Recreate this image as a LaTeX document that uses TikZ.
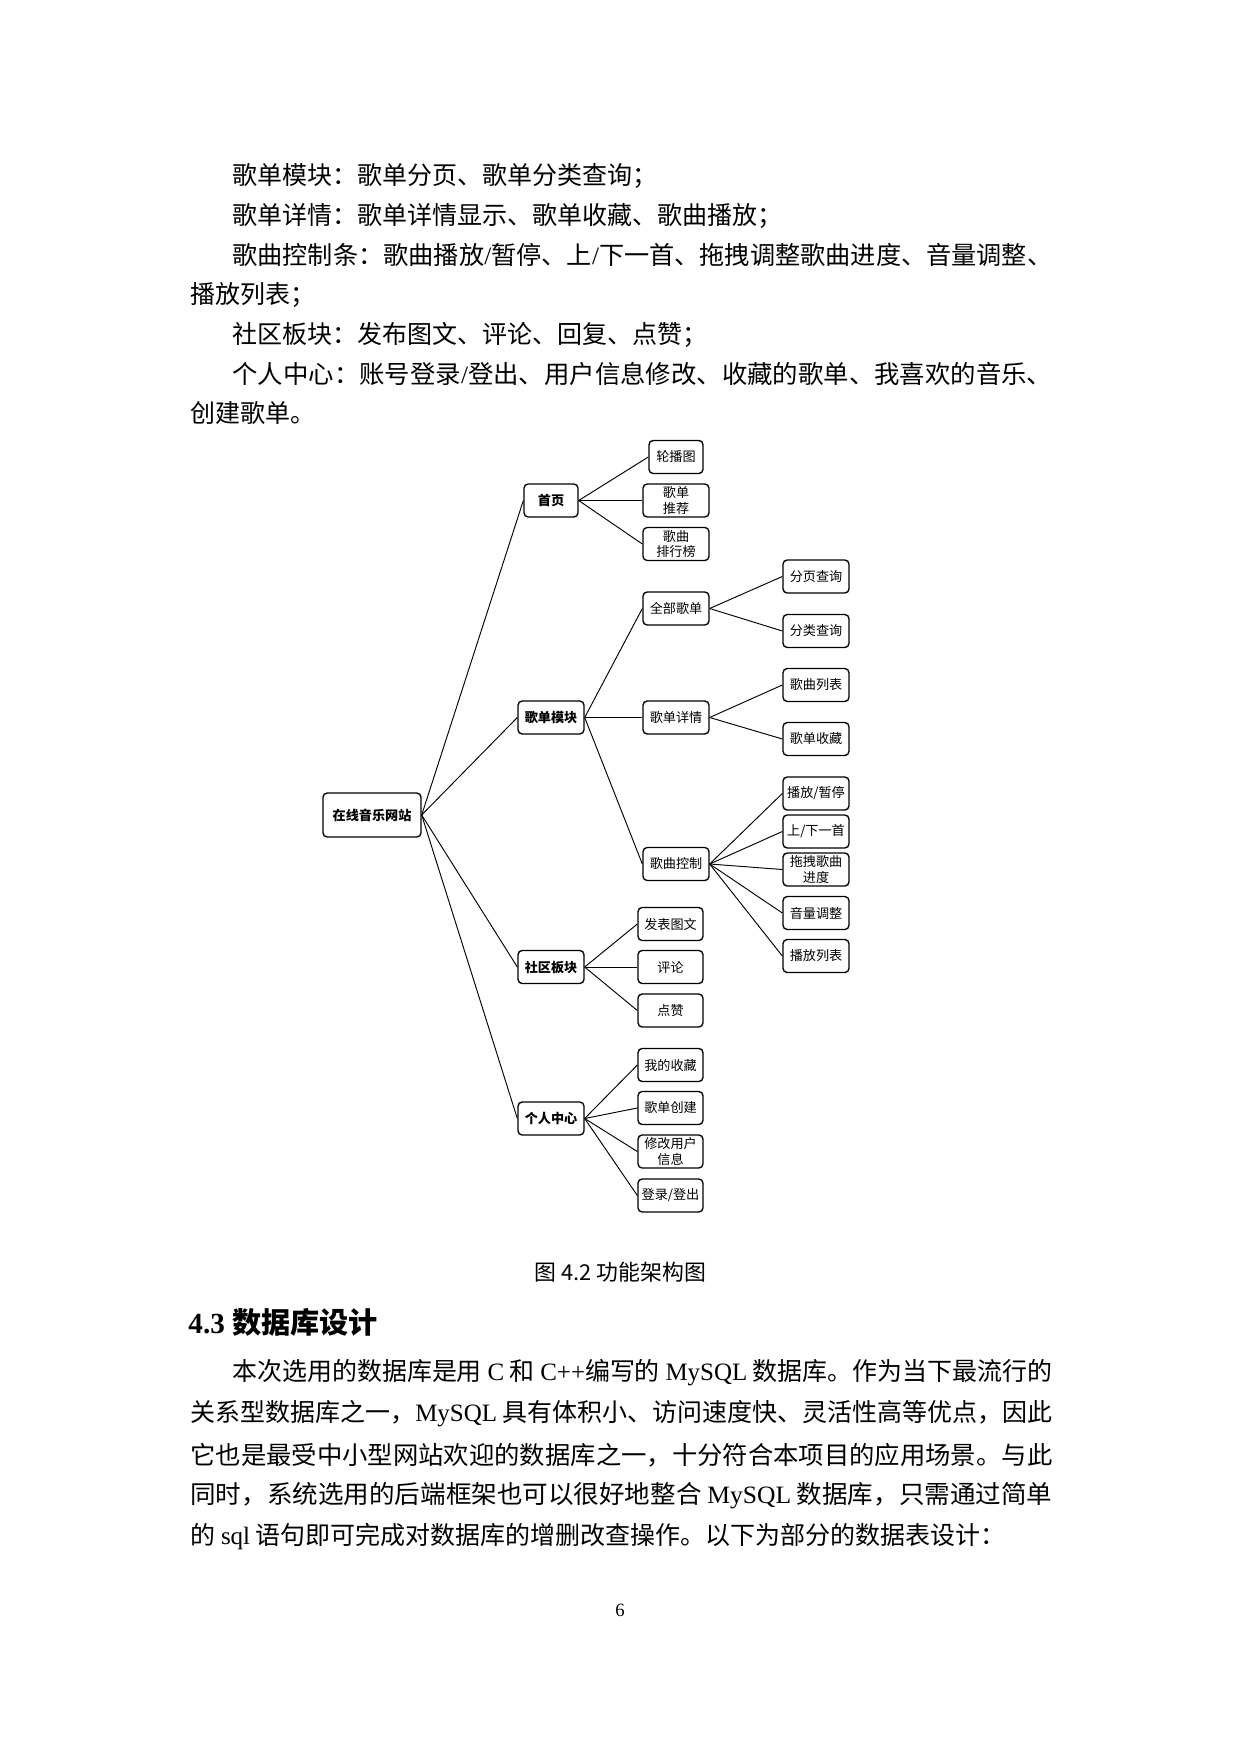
\documentclass[tikz,border=0pt]{standalone}
\usepackage{fontspec}
\usepackage{graphicx}
\setmainfont{Liberation Serif}
\newfontfamily\cjk{Noto Sans CJK SC}
\newcommand\lat[1]{{\rmfamily #1}}
\newcommand\fline[1]{\resizebox{413.8pt}{\height}{#1}}
\newcommand\iline[1]{\resizebox{393.6pt}{\height}{#1}}
\newcommand\dfont{\fontsize{6.3}{7.6}\selectfont\cjk}
\begin{document}
\begin{tikzpicture}[x=0.48006pt,y=-0.48006pt,
  body/.style={anchor=west, inner sep=0pt, font=\fontsize{12}{14}\selectfont\cjk},
  box/.style={draw, line width=0.65pt, rounded corners=2pt, inner sep=0pt, align=center,
    minimum height=15.84pt, minimum width=31.68pt, font=\dfont},
  lvl/.style={box, font=\dfont\bfseries},
  wa/.style={minimum width=25.92pt},
  wc/.style={minimum width=31.2pt},
  link/.style={line width=0.45pt}]
\fill[white] (0,0) rectangle (1240,1754);
\useasboundingbox (0,0) rectangle (1240,1754);

% body text, first part
\node[body] (p1) at (232,176) {歌单模块：歌单分页、歌单分类查询；};
\node[body] (p2) at (232,215.5) {歌单详情：歌单详情显示、歌单收藏、歌曲播放；};
\node[body] (p3) at (232,255) {\iline{歌曲控制条：歌曲播放\lat{/}暂停、上\lat{/}下一首、拖拽调整歌曲进度、音量调整、}};
\node[body] (p4) at (190,295) {播放列表；};
\node[body] (p5) at (232,334.5) {社区板块：发布图文、评论、回复、点赞；};
\node[body] (p6) at (232,374) {\iline{个人中心：账号登录\lat{/}登出、用户信息修改、收藏的歌单、我喜欢的音乐、}};
\node[body] (p7) at (190,413.5) {创建歌单。};

% diagram
\node[box, minimum width=47.05pt, minimum height=21.12pt, font=\dfont\bfseries] (root) at (372,815) {在线音乐网站};
\node[lvl, wa] (a) at (551,500.5) {首页};
\node[lvl] (b) at (551,717.5) {歌单模块};
\node[lvl] (c) at (551,967) {社区板块};
\node[lvl] (d) at (551,1118.5) {个人中心};

\node[box, wa] (a1) at (676,457) {轮播图};
\node[box] (a2) at (676,500.5) {歌单\\推荐};
\node[box] (a3) at (676,544) {歌曲\\排行榜};

\node[box] (b1) at (676,608.5) {全部歌单};
\node[box] (b2) at (676,717.5) {歌单详情};
\node[box] (b3) at (676,864) {歌曲控制};

\node[box] (b11) at (816,576.5) {分页查询};
\node[box] (b12) at (816,631) {分类查询};
\node[box] (b21) at (816,685) {歌曲列表};
\node[box] (b22) at (816,739) {歌单收藏};
\node[box] (b31) at (816,793.5) {播放/暂停};
\node[box] (b32) at (816,831.5) {上/下一首};
\node[box] (b33) at (816,869.5) {拖拽歌曲\\进度};
\node[box] (b34) at (816,913) {音量调整};
\node[box] (b35) at (816,956) {播放列表};

\node[box, wc] (c1) at (670.5,924) {发表图文};
\node[box, wc] (c2) at (670.5,967) {评论};
\node[box, wc] (c3) at (670.5,1010.5) {点赞};

\node[box, wc] (d1) at (670.5,1065) {我的收藏};
\node[box, wc] (d2) at (670.5,1108) {歌单创建};
\node[box, wc] (d3) at (670.5,1151.5) {修改用户\\信息};
\node[box, wc] (d4) at (670.5,1195.5) {登录/登出};

\foreach \t in {a,b,c,d} \draw[link] (root.east) -- (\t.west);
\foreach \t in {a1,a2,a3} \draw[link] (a.east) -- (\t.west);
\foreach \t in {b1,b2,b3} \draw[link] (b.east) -- (\t.west);
\foreach \t in {b11,b12} \draw[link] (b1.east) -- (\t.west);
\foreach \t in {b21,b22} \draw[link] (b2.east) -- (\t.west);
\foreach \t in {b31,b32,b33,b34,b35} \draw[link] (b3.east) -- (\t.west);
\foreach \t in {c1,c2,c3} \draw[link] (c.east) -- (\t.west);
\foreach \t in {d1,d2,d3,d4} \draw[link] (d.east) -- (\t.west);

% caption and heading
\node[inner sep=0pt, font=\fontsize{10.5}{12}\selectfont\cjk] (cap) at (620.5,1272) {图 4.2 功能架构图};
\node[anchor=west, inner sep=0pt, font=\fontsize{14}{16}\selectfont\bfseries] (h) at (188,1322) {4.3 {\cjk 数据库设计}};

% body text, second part
\node[body] (q1) at (232,1373) {\iline{本次选用的数据库是用 \lat{C} 和 \lat{C++}编写的 \lat{MySQL} 数据库。作为当下最流行的}};
\node[body] (q2) at (190,1414) {\fline{关系型数据库之一，\lat{MySQL} 具有体积小、访问速度快、灵活性高等优点，因此}};
\node[body] (q3) at (190,1455) {\fline{它也是最受中小型网站欢迎的数据库之一，十分符合本项目的应用场景。与此}};
\node[body] (q4) at (190,1496) {\fline{同时，系统选用的后端框架也可以很好地整合 \lat{MySQL} 数据库，只需通过简单}};
\node[body] (q5) at (190,1537) {的 \lat{sql} 语句即可完成对数据库的增删改查操作。以下为部分的数据表设计：};

\node[inner sep=0pt, font=\fontsize{9}{11}\selectfont] (pg) at (620,1610) {6};
\end{tikzpicture}
\end{document}
